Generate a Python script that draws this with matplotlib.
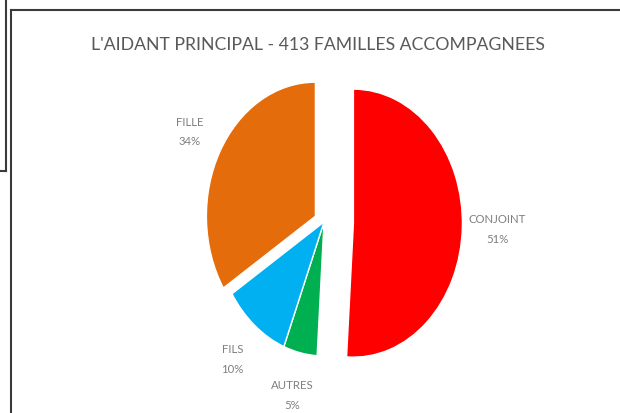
import matplotlib
matplotlib.use("Agg")
import matplotlib.pyplot as plt
from matplotlib.lines import Line2D

categories = ["CONJOINT", "AUTRES", "FILS", "FILLE"]
percents = [51, 5, 10, 34]
colors = ["#FF0000", "#00B050", "#00B0F0", "#E46C0A"]
explode = [0.27, 0.0, 0.0, 0.09]
title = "L'AIDANT PRINCIPAL - 413 FAMILLES ACCOMPAGNEES"

W, H = 620, 414
fig = plt.figure(figsize=(W / 100, H / 100), dpi=100)
fig.patch.set_facecolor("white")
ax = fig.add_axes([0, 0, 1, 1])

labels = [f"{c}\n{p}%" for c, p in zip(categories, percents)]
wedges, texts = ax.pie(percents, labels=labels, colors=colors, explode=explode,
                       startangle=90, counterclock=False, labeldistance=1.32,
                       wedgeprops=dict(edgecolor="white", linewidth=1),
                       textprops=dict(fontsize=8.2, color="#7F7F7F",
                                      family=["Lato", "DejaVu Sans"]))
for t in texts:
    t.set_ha("center")
    t.set_va("center")
    t.set_linespacing(1.95)

# pixel geometry: pie centre and radii (ellipse, as in reference)
cx, cy = 324, H - 223
rx, ry = 109, 134
ax.set_aspect("auto")
ax.set_xlim(-cx / rx, (W - cx) / rx)
ax.set_ylim(-cy / ry, (H - cy) / ry)
ax.axis("off")

fig.text(318 / W, 1 - 45 / H, title, ha="center", va="center", fontsize=12.7,
         color="#595959", family=["Lato", "DejaVu Sans"])

# frame lines
lc = "#3A3A3A"
fig.add_artist(Line2D([10.5 / W, 10.5 / W], [0, 1 - 10.5 / H], color=lc, lw=1.5,
                      transform=fig.transFigure))
fig.add_artist(Line2D([10.5 / W, 1], [1 - 10.5 / H, 1 - 10.5 / H], color=lc, lw=1.5,
                      transform=fig.transFigure))
fig.add_artist(Line2D([6 / W, 6 / W], [1, 1 - 172 / H], color=lc, lw=1.5,
                      transform=fig.transFigure))
fig.add_artist(Line2D([0, 6 / W], [1 - 172 / H, 1 - 172 / H], color=lc, lw=1.5,
                      transform=fig.transFigure))

fig.savefig("out.png", dpi=100)
